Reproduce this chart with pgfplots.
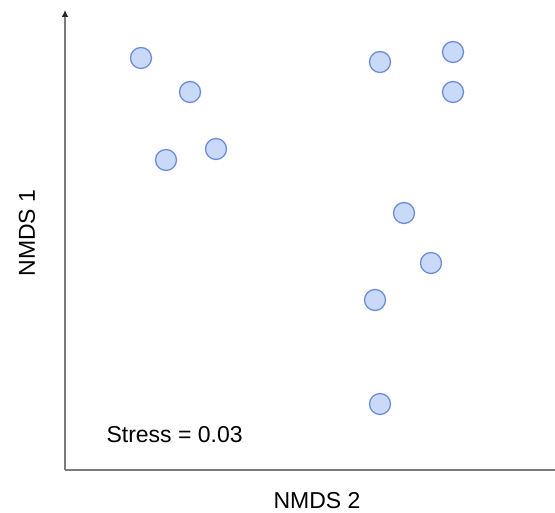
\documentclass[border=0pt]{standalone}
\usepackage{pgfplots}
\pgfplotsset{compat=1.18}
\usepackage{fontspec}
\setmainfont{Liberation Sans}
\usetikzlibrary{arrows.meta}
\definecolor{ptfill}{HTML}{C9DAF8}
\definecolor{ptedge}{HTML}{6D8ED6}
\definecolor{axgray}{HTML}{7A7A7A}
\begin{document}
\begin{tikzpicture}[x=1pt,y=1pt]
\useasboundingbox (-65,-43) rectangle (490,470);
\begin{axis}[
  at={(0,0)}, anchor=origin,
  scale only axis, width=490pt, height=460pt,
  xmin=0, xmax=490, ymin=0, ymax=460,
  axis x line=bottom, axis y line=left,
  x axis line style={-, axgray, line width=1.4pt},
  y axis line style={-{Latex[length=7pt,width=7pt,color=black!85]}, axgray, line width=1.4pt},
  xtick=\empty, ytick=\empty,
  clip=false,
]
\addplot[only marks, mark=*, mark size=10.5pt,
  mark options={fill=ptfill, draw=ptedge, line width=1.3pt}]
  coordinates {
  (76,412) (125,378) (101,310) (151,321)
  (315,408) (388,418) (388,378)
  (339,257) (366,207) (310,170) (315,66)
  };
\end{axis}
\node[font=\fontsize{23}{27}\selectfont, anchor=base west] at (38,27) {Stress = 0.03};
\node[font=\fontsize{23}{27}\selectfont] at (252,-31) {NMDS 2};
\node[font=\fontsize{23}{27}\selectfont, rotate=90] at (-38,237) {NMDS 1};
\end{tikzpicture}
\end{document}
